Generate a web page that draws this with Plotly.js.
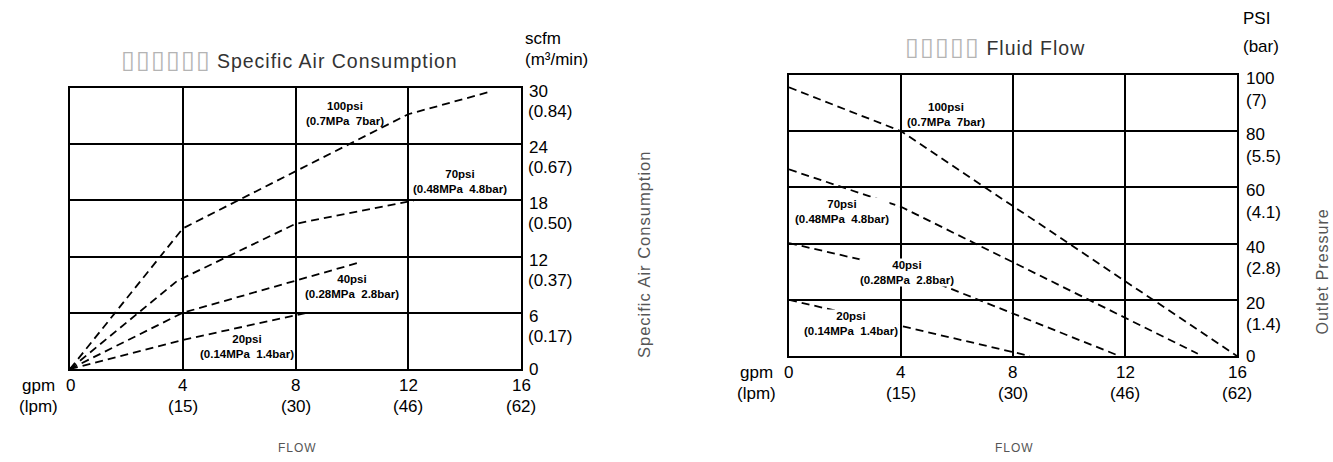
<!DOCTYPE html>
<html>
<head>
<meta charset="utf-8">
<script src="https://cdn.plot.ly/plotly-3.0.1.min.js"></script>
<style>
  html, body { margin: 0; padding: 0; background: #fff; }
  #chart { width: 1333px; height: 462px; }
  g.annotation[data-index="0"] text, g.annotation[data-index="1"] text,
  g.annotation[data-index="2"] text, g.annotation[data-index="3"] text,
  g.annotation[data-index="4"] text, g.annotation[data-index="5"] text { letter-spacing: 1px; }
</style>
</head>
<body>
<div id="chart"></div>
<script>
// ---------- data ----------
const flowTicks = [0, 4, 8, 12, 16];
const flowTickGpm = ['0', '4', '8', '12', '16'];
const flowTickLpm = ['', '(15)', '(30)', '(46)', '(62)'];

const airTicks = [0, 6, 12, 18, 24, 30];
const airTickScfm = ['0', '6', '12', '18', '24', '30'];
const airTickM3 = ['', '(0.17)', '(0.37)', '(0.50)', '(0.67)', '(0.84)'];

const psiTicks = [0, 20, 40, 60, 80, 100];
const psiTickText = ['0', '20', '40', '60', '80', '100'];
const barTickText = ['', '(1.4)', '(2.8)', '(4.1)', '(5.5)', '(7)'];

const pressureNames = ['100psi', '70psi', '40psi', '20psi'];
const pressureUnits = ['(0.7MPa\u00a0 7bar)', '(0.48MPa\u00a0 4.8bar)', '(0.28MPa\u00a0 2.8bar)', '(0.14MPa\u00a0 1.4bar)'];

// Specific Air Consumption (gpm -> scfm)
const air100Gpm = [0, 4, 12, 14.9];
const air100Scfm = [0, 15, 27.2, 29.6];
const air70Gpm = [0, 3.8, 8, 12.2];
const air70Scfm = [0, 9.4, 15.5, 18];
const air40Gpm = [0, 4, 10.3];
const air40Scfm = [0, 6, 11.4];
const air20Gpm = [0, 4, 8.4];
const air20Scfm = [0, 3.1, 6];

// Fluid Flow (gpm -> outlet PSI)
const fluid100Gpm = [0, 4, 16];
const fluid100Psi = [95.6, 80, 0];
const fluid70Gpm = [0, 4, 14.6];
const fluid70Psi = [66.4, 53.1, 0.8];
const fluid40Gpm = [0, 4, 11.7];
const fluid40Psi = [40.2, 31, 0.4];
const fluid20Gpm = [0, 8.6];
const fluid20Psi = [20, 0];

// label anchor points (data coordinates)
const airLabelGpm = [9.75, 13.83, 10.0, 6.28];
const airLabelScfm = [27.3, 20.0, 8.8, 2.45];
const fluidLabelGpm = [5.6, 1.91, 4.2, 2.2];
const fluidLabelPsi = [85.8, 51.6, 29.7, 11.4];

// ---------- styling ----------
const W = 1333, H = 462;
const tickFont = { family: 'Liberation Sans, Arial, sans-serif', size: 17, color: '#000' };
const lblFont = { family: 'Liberation Sans, Arial, sans-serif', size: 11.5, color: '#000', weight: 700 };
const grayFont = (s, c) => ({ family: 'Liberation Sans, Arial, sans-serif', size: s, color: c });
const px = v => v / W;
const py = v => 1 - v / H;
const lineStyle = { color: '#000', width: 1.8, dash: '8px,5px' };

function mk(x, y, xa, ya) {
  return { x: x, y: y, xaxis: xa, yaxis: ya, type: 'scatter', mode: 'lines',
           line: lineStyle, hoverinfo: 'skip', showlegend: false };
}
const traces = [
  mk(air100Gpm, air100Scfm, 'x', 'y'),
  mk(air70Gpm, air70Scfm, 'x', 'y'),
  mk(air40Gpm, air40Scfm, 'x', 'y'),
  mk(air20Gpm, air20Scfm, 'x', 'y'),
  mk(fluid100Gpm, fluid100Psi, 'x2', 'y2'),
  mk(fluid70Gpm, fluid70Psi, 'x2', 'y2'),
  mk(fluid40Gpm, fluid40Psi, 'x2', 'y2'),
  mk(fluid20Gpm, fluid20Psi, 'x2', 'y2')
];

const ann = [];
const boxes = n => '<span style="font-size:25px;color:#b4b4b4">' + '\u25AF'.repeat(n) + '</span>';
// 0-5: gray texts (letter-spaced)
ann.push({ xref: 'paper', yref: 'paper', x: px(289), y: py(58.5), xanchor: 'center', yanchor: 'middle', showarrow: false,
  text: boxes(6) + ' Specific Air Consumption', font: grayFont(19.5, '#333') });
ann.push({ xref: 'paper', yref: 'paper', x: px(995.5), y: py(45.5), xanchor: 'center', yanchor: 'middle', showarrow: false,
  text: boxes(5) + ' Fluid Flow', font: grayFont(19.5, '#333') });
ann.push({ xref: 'paper', yref: 'paper', x: px(644), y: py(255), xanchor: 'center', yanchor: 'middle', showarrow: false,
  textangle: -90, text: 'Specific Air Consumption', font: grayFont(16.5, '#555') });
ann.push({ xref: 'paper', yref: 'paper', x: px(1322.5), y: py(271.5), xanchor: 'center', yanchor: 'middle', showarrow: false,
  textangle: -90, text: 'Outlet Pressure', font: grayFont(16, '#555') });
ann.push({ xref: 'paper', yref: 'paper', x: px(297), y: py(448), xanchor: 'center', yanchor: 'middle', showarrow: false,
  text: 'FLOW', font: grayFont(12, '#555') });
ann.push({ xref: 'paper', yref: 'paper', x: px(1014), y: py(448), xanchor: 'center', yanchor: 'middle', showarrow: false,
  text: 'FLOW', font: grayFont(12, '#555') });

function t(xref, yref, x, y, text, opts) {
  ann.push(Object.assign({ xref: xref, yref: yref, x: x, y: y, text: text, showarrow: false,
    font: tickFont, xanchor: 'center', yanchor: 'middle', borderpad: 0 }, opts || {}));
}
// unit headers
t('x', 'y', 16, 30, 'scfm', { xanchor: 'left', xshift: 3, yshift: 49.5 });
t('x', 'y', 16, 30, '(m\u00B3/min)', { xanchor: 'left', xshift: 3, yshift: 28.5 });
t('x2', 'y2', 16, 100, 'PSI', { xanchor: 'left', xshift: 5, yshift: 56.5 });
t('x2', 'y2', 16, 100, '(bar)', { xanchor: 'left', xshift: 5, yshift: 28.5 });
// gpm / lpm headers
[['x', 'y'], ['x2', 'y2']].forEach(([xa, ya]) => {
  t(xa, ya, 0, 0, 'gpm', { xshift: -32, yshift: -16.5 });
  t(xa, ya, 0, 0, '(lpm)', { xshift: -32, yshift: -37 });
});
// x tick labels
[['x', 'y'], ['x2', 'y2']].forEach(([xa, ya]) => {
  flowTicks.forEach((v, i) => {
    t(xa, ya, v, 0, flowTickGpm[i], { yshift: -16.5 });
    if (flowTickLpm[i]) t(xa, ya, v, 0, flowTickLpm[i], { yshift: -37 });
  });
});
// y tick labels, left chart
airTicks.forEach((v, i) => {
  const first = airTickM3[i] ? -3.5 : 0;
  t('x', 'y', 16, v, airTickScfm[i], { xanchor: 'left', xshift: 7, yshift: first });
  if (airTickM3[i]) t('x', 'y', 16, v, airTickM3[i], { xanchor: 'left', xshift: 6, yshift: -23.5 });
});
// y tick labels, right chart
psiTicks.forEach((v, i) => {
  const first = barTickText[i] ? -3.5 : 0;
  t('x2', 'y2', 16, v, psiTickText[i], { xanchor: 'left', xshift: 8, yshift: first });
  if (barTickText[i]) t('x2', 'y2', 16, v, barTickText[i], { xanchor: 'left', xshift: 8, yshift: -25 });
});
// curve labels (right chart labels sit on a white box that hides the lines/grid below them)
pressureNames.forEach((n, i) => {
  t('x', 'y', airLabelGpm[i], airLabelScfm[i], n + '<br>' + pressureUnits[i], { font: lblFont });
  t('x2', 'y2', fluidLabelGpm[i], fluidLabelPsi[i], n + '<br>' + pressureUnits[i], { font: lblFont, bgcolor: '#fff' });
});

const axisBase = {
  showline: true, mirror: true, linecolor: '#000', linewidth: 2,
  showgrid: true, gridcolor: '#000', gridwidth: 2, zeroline: false,
  ticks: '', showticklabels: false, fixedrange: true
};

const layout = {
  width: W, height: H,
  margin: { l: 0, r: 0, t: 0, b: 0 },
  paper_bgcolor: '#fff', plot_bgcolor: '#fff',
  showlegend: false,
  xaxis: Object.assign({}, axisBase, { domain: [px(70), px(521)], range: [0, 16], tickvals: flowTicks, anchor: 'y' }),
  yaxis: Object.assign({}, axisBase, { domain: [(H - 369) / H, (H - 88) / H], range: [0, 30], tickvals: airTicks, anchor: 'x' }),
  xaxis2: Object.assign({}, axisBase, { domain: [px(789), px(1237)], range: [0, 16], tickvals: flowTicks, anchor: 'y2' }),
  yaxis2: Object.assign({}, axisBase, { domain: [(H - 356) / H, (H - 75) / H], range: [0, 100], tickvals: psiTicks, anchor: 'x2' }),
  annotations: ann
};

Plotly.newPlot('chart', traces, layout, { staticPlot: true, displayModeBar: false });
</script>
</body>
</html>
